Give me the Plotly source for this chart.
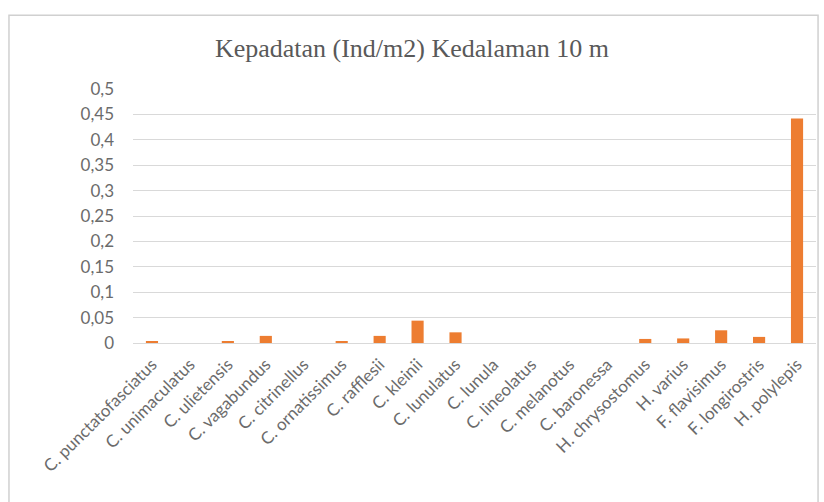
import plotly.graph_objects as go

species = [
    "C. punctatofasciatus", "C. unimaculatus", "C. ulietensis", "C. vagabundus",
    "C. citrinellus", "C. ornatissimus", "C. rafflesii", "C. kleinii",
    "C. lunulatus", "C. lunula", "C. lineolatus", "C. melanotus",
    "C. baronessa", "H. chrysostomus", "H. varius", "F. flavisimus",
    "F. longirostris", "H. polylepis",
]
density = [
    0.003, 0.0, 0.003, 0.014,
    0.0, 0.003, 0.014, 0.044,
    0.021, 0.0, 0.0, 0.0,
    0.0, 0.008, 0.009, 0.025,
    0.012, 0.442,
]
y_ticks = [0, 0.05, 0.1, 0.15, 0.2, 0.25, 0.3, 0.35, 0.4, 0.45, 0.5]

label_font = dict(family="Lato, Open Sans, sans-serif", size=17, color="#6b6b6b")

fig = go.Figure(
    go.Bar(x=species, y=density, marker=dict(color="#ED7D31", line=dict(width=0)))
)

fig.update_layout(
    width=824, height=502,
    margin=dict(l=133, r=8, t=89, b=159),
    paper_bgcolor="white", plot_bgcolor="white",
    separators=",.",
    bargap=0.68,
    showlegend=False,
    title=dict(
        text="Kepadatan (Ind/m2) Kedalaman 10 m",
        x=0.5, xref="container", xanchor="center",
        y=0.905, yref="container", yanchor="middle",
        font=dict(family="Liberation Serif, Times New Roman, serif", size=26, color="#595959"),
    ),
    xaxis=dict(
        tickangle=-45, tickfont=label_font, showgrid=False,
        showline=True, linecolor="#D9D9D9", linewidth=1, ticks="",
        ticklabelstandoff=4,
    ),
    yaxis=dict(
        range=[0, 0.5], tickvals=y_ticks, tickfont=label_font,
        showgrid=True, gridcolor="#D9D9D9", gridwidth=1,
        zeroline=False, showline=False, ticks="", ticklabelstandoff=18,
    ),
    shapes=[
        dict(type="rect", xref="paper", yref="paper",
             x0=-0.1816, x1=1.003, y0=-0.65, y1=1.29,
             line=dict(color="#D0D0D0", width=1.5), fillcolor="rgba(0,0,0,0)", layer="below"),
    ],
)

fig.write_html("out.html")
